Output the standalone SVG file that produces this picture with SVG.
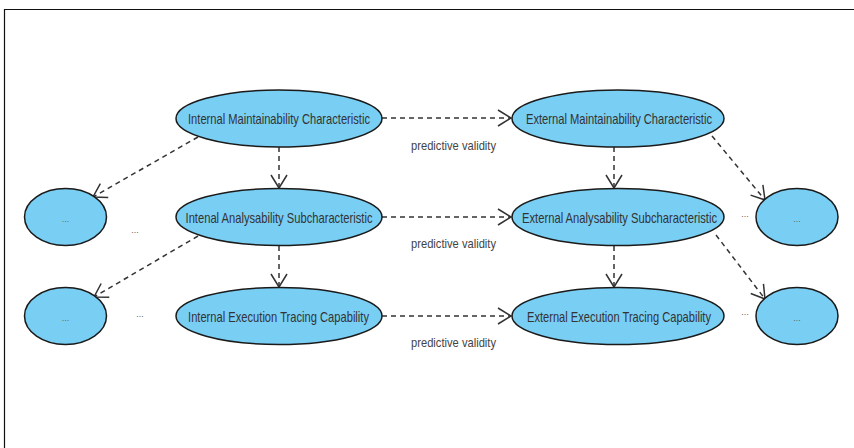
<svg xmlns="http://www.w3.org/2000/svg" width="854" height="448" viewBox="0 0 854 448">
<style>
.node{fill:#79cef3;stroke:#1a1a1a;stroke-width:1.5}
.lbl{font-family:"Liberation Sans",Arial,sans-serif;font-size:14px;fill:#333;text-anchor:middle}
.edge{font-family:"Liberation Sans",Arial,sans-serif;font-size:12.5px;fill:#444;text-anchor:middle}
.dots{font-family:"Liberation Sans",Arial,sans-serif;font-size:9px;fill:#666;text-anchor:middle}
.conn{fill:none;stroke:#333;stroke-width:1.5;stroke-dasharray:5,4}
</style>
<defs>
<marker id="arr" markerUnits="userSpaceOnUse" markerWidth="16" markerHeight="20" refX="13" refY="8" orient="auto" overflow="visible">
<path d="M0,0 L13,8 L0,16" fill="none" stroke="#333" stroke-width="1.5"/>
</marker>
</defs>
<rect x="0" y="0" width="854" height="448" fill="#fff"/>
<path d="M4.5,448 L4.5,9.5 L854,9.5" fill="none" stroke="#111" stroke-width="1.2"/>
<g id="connectors">
<line class="conn" x1="382" y1="118" x2="511" y2="118" marker-end="url(#arr)"/>
<line class="conn" x1="382" y1="217" x2="511" y2="217" marker-end="url(#arr)"/>
<line class="conn" x1="382" y1="316" x2="511" y2="316" marker-end="url(#arr)"/>
<line class="conn" x1="279" y1="147" x2="279" y2="188" marker-end="url(#arr)"/>
<line class="conn" x1="279" y1="246" x2="279" y2="287" marker-end="url(#arr)"/>
<line class="conn" x1="614" y1="147" x2="614" y2="188" marker-end="url(#arr)"/>
<line class="conn" x1="614" y1="246" x2="614" y2="287" marker-end="url(#arr)"/>
<line class="conn" x1="198" y1="137" x2="93" y2="197" marker-end="url(#arr)"/>
<line class="conn" x1="198" y1="236" x2="94" y2="297" marker-end="url(#arr)"/>
<line class="conn" x1="712" y1="136" x2="765" y2="200" marker-end="url(#arr)"/>
<line class="conn" x1="716" y1="235" x2="765" y2="299" marker-end="url(#arr)"/>
<text class="edge" transform="translate(453.5,150) scale(0.9,1)" x="0" y="0" textLength="94.4" lengthAdjust="spacingAndGlyphs">predictive validity</text>
<text class="edge" transform="translate(453.5,248) scale(0.9,1)" x="0" y="0" textLength="94.4" lengthAdjust="spacingAndGlyphs">predictive validity</text>
<text class="edge" transform="translate(453.5,347) scale(0.9,1)" x="0" y="0" textLength="94.4" lengthAdjust="spacingAndGlyphs">predictive validity</text>
</g>
<g id="int-maint"><ellipse class="node" cx="279" cy="118.5" rx="103" ry="28.5"/><text class="lbl" transform="translate(279,124) scale(0.78,1)" x="0" y="0" textLength="233.3" lengthAdjust="spacingAndGlyphs">Internal Maintainability Characteristic</text></g>
<g id="ext-maint"><ellipse class="node" cx="618" cy="118.5" rx="106" ry="28.5"/><text class="lbl" transform="translate(619,124) scale(0.78,1)" x="0" y="0" textLength="238.5" lengthAdjust="spacingAndGlyphs">External Maintainability Characteristic</text></g>
<g id="int-anal"><ellipse class="node" cx="279" cy="217" rx="103" ry="28.5"/><text class="lbl" transform="translate(279,222.5) scale(0.78,1)" x="0" y="0" textLength="239.7" lengthAdjust="spacingAndGlyphs">Intenal Analysability Subcharacteristic</text></g>
<g id="ext-anal"><ellipse class="node" cx="618" cy="217" rx="106" ry="28.5"/><text class="lbl" transform="translate(619.5,222.5) scale(0.78,1)" x="0" y="0" textLength="250" lengthAdjust="spacingAndGlyphs">External Analysability Subcharacteristic</text></g>
<g id="int-exec"><ellipse class="node" cx="279" cy="316" rx="103" ry="28.5"/><text class="lbl" transform="translate(278.5,321.5) scale(0.78,1)" x="0" y="0" textLength="232" lengthAdjust="spacingAndGlyphs">Internal Execution Tracing Capability</text></g>
<g id="ext-exec"><ellipse class="node" cx="618" cy="316" rx="106" ry="28.5"/><text class="lbl" transform="translate(619,321.5) scale(0.78,1)" x="0" y="0" textLength="235.9" lengthAdjust="spacingAndGlyphs">External Execution Tracing Capability</text></g>
<g id="left-1"><ellipse class="node" cx="65.5" cy="217" rx="41" ry="28.5"/><text class="dots" x="65.5" y="222">...</text></g>
<g id="left-2"><ellipse class="node" cx="65.5" cy="316" rx="41" ry="28.5"/><text class="dots" x="65.5" y="321">...</text></g>
<g id="right-1"><ellipse class="node" cx="797" cy="217" rx="41" ry="28.5"/><text class="dots" x="797" y="222">...</text></g>
<g id="right-2"><ellipse class="node" cx="797" cy="316" rx="41" ry="28.5"/><text class="dots" x="797" y="321">...</text></g>
<text class="dots" x="135" y="233">...</text>
<text class="dots" x="140" y="317">...</text>
<text class="dots" x="745" y="217">...</text>
<text class="dots" x="745" y="315">...</text>
</svg>
